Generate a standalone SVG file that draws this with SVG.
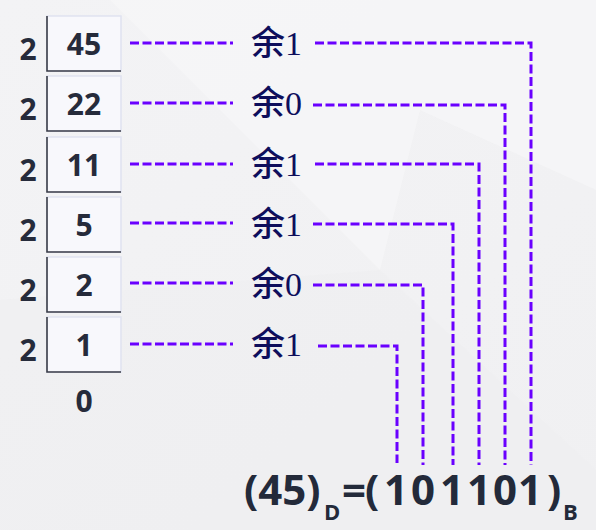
<svg xmlns="http://www.w3.org/2000/svg" width="596" height="530" viewBox="0 0 596 530">
  <defs>
    <linearGradient id="bg" x1="0" y1="0" x2="1" y2="1">
      <stop offset="0" stop-color="#f3f3f5"/>
      <stop offset="1" stop-color="#f0f0f2"/>
    </linearGradient>
  </defs>
  <style>
    .box{fill:#f8f8fc;stroke:#dfe2f0;stroke-width:1.5}
    .edge{fill:none;stroke:#3a3d48;stroke-width:1.6}
    .num{font-family:"Open Sans","Noto Sans",sans-serif;font-weight:bold;font-size:30px;fill:#262b3b;text-anchor:middle}
    .rem{font-family:"Liberation Serif","Noto Sans CJK SC",serif;font-size:34px;fill:#0e0e5c}
    .cjk{font-family:"Noto Sans CJK SC",sans-serif;font-weight:500}
    .dash{fill:none;stroke:#6a00ff;stroke-width:3;stroke-dasharray:9 3.5}
    .res{font-family:"Open Sans","Noto Sans",sans-serif;font-weight:bold;fill:#232a3a}
  </style>
  <rect width="596" height="530" fill="url(#bg)"/>
  <polygon points="110,0 596,0 596,190 420,110 380,270" fill="#f7f7f8" opacity="0.7"/>
  <polygon points="0,300 380,270 596,470 596,530 0,530" fill="#eeeef0" opacity="0.6"/>

  <g id="row1">
    <text class="num" x="28" y="60">2</text>
    <rect class="box" x="47" y="16" width="74" height="55"/>
    <path class="edge" d="M47,16 V71 H121"/>
    <text class="num" x="84" y="55">45</text>
    <text class="rem" x="251" y="55"><tspan class="cjk">余</tspan>1</text>
  </g>
  <g id="row2">
    <text class="num" x="28" y="120">2</text>
    <rect class="box" x="47" y="76" width="74" height="55"/>
    <path class="edge" d="M47,76 V131 H121"/>
    <text class="num" x="84" y="115">22</text>
    <text class="rem" x="251" y="115"><tspan class="cjk">余</tspan>0</text>
  </g>
  <g id="row3">
    <text class="num" x="28" y="181">2</text>
    <rect class="box" x="47" y="137" width="74" height="55"/>
    <path class="edge" d="M47,137 V192 H121"/>
    <text class="num" x="84" y="176">11</text>
    <text class="rem" x="251" y="176"><tspan class="cjk">余</tspan>1</text>
  </g>
  <g id="row4">
    <text class="num" x="28" y="241">2</text>
    <rect class="box" x="47" y="197" width="74" height="55"/>
    <path class="edge" d="M47,197 V252 H121"/>
    <text class="num" x="84" y="236">5</text>
    <text class="rem" x="251" y="236"><tspan class="cjk">余</tspan>1</text>
  </g>
  <g id="row5">
    <text class="num" x="28" y="301">2</text>
    <rect class="box" x="47" y="257" width="74" height="55"/>
    <path class="edge" d="M47,257 V312 H121"/>
    <text class="num" x="84" y="296">2</text>
    <text class="rem" x="251" y="296"><tspan class="cjk">余</tspan>0</text>
  </g>
  <g id="row6">
    <text class="num" x="28" y="361">2</text>
    <rect class="box" x="47" y="317" width="74" height="55"/>
    <path class="edge" d="M47,317 V372 H121"/>
    <text class="num" x="84" y="356">1</text>
    <text class="rem" x="251" y="356"><tspan class="cjk">余</tspan>1</text>
  </g>
  <g id="quotient0">
    <text class="num" x="84" y="412">0</text>
  </g>

  <g id="connectors">
    <path class="dash" d="M130,43 H233"/>
    <path class="dash" d="M130,103 H233"/>
    <path class="dash" d="M130,164 H233"/>
    <path class="dash" d="M130,223 H233"/>
    <path class="dash" d="M130,283 H233"/>
    <path class="dash" d="M130,344 H233"/>
    <path class="dash" d="M315,43 H531 V465"/>
    <path class="dash" d="M313,105 H505 V465"/>
    <path class="dash" d="M315,164 H479 V465"/>
    <path class="dash" d="M313,224 H453 V465"/>
    <path class="dash" d="M313,285 H423 V465"/>
    <path class="dash" d="M318,346 H397 V463"/>
  </g>

  <g id="result">
    <text class="res" font-size="42"><tspan x="244" y="505">(45)</tspan><tspan x="324" y="520" font-size="22">D</tspan><tspan x="342" y="505">=</tspan><tspan x="365" y="505">(</tspan><tspan x="384" y="505">1</tspan><tspan x="411" y="505">0</tspan><tspan x="440" y="505">1</tspan><tspan x="467" y="505">1</tspan><tspan x="493" y="505">0</tspan><tspan x="518" y="505">1</tspan><tspan x="547" y="505">)</tspan><tspan x="563" y="520" font-size="22">B</tspan></text>
  </g>
</svg>
